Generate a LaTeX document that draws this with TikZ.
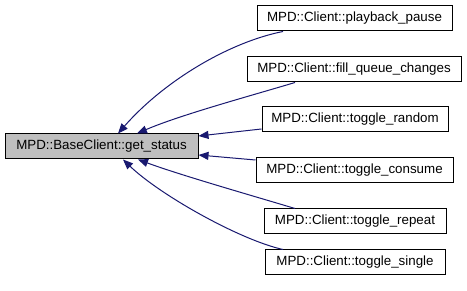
\documentclass[tikz,border=0pt]{standalone}
\usepackage{fontspec}
\setmainfont{Liberation Sans}
\usetikzlibrary{arrows.meta}
\definecolor{edgeblue}{HTML}{191970}

\begin{document}
\begin{tikzpicture}[x=0.75pt, y=-0.75pt, ->, >={Triangle[length=7.5pt,width=6pt]}, semithick]
        \tikzstyle{every node}=[draw=black, line width=0.75pt, fill=white, inner sep=0pt, minimum height=18.75pt, font=\fontsize{10pt}{12pt}\selectfont]
        \tikzstyle{caller}=[edgeblue, line width=0.75pt]
        \useasboundingbox (0,0) rectangle (467,291);
        \node[fill=gray!50, minimum width=144.75pt] (status) at (101.5,146.5) {MPD::BaseClient::get\_status};
        \node[minimum width=146.25pt] (pause)   at (354.5,18.5)  {MPD::Client::playback\_pause};
        \node[minimum width=160.5pt]  (fill)    at (354,69.5)    {MPD::Client::fill\_queue\_changes};
        \node[minimum width=139.5pt]  (random)  at (355,119.5)   {MPD::Client::toggle\_random};
        \node[minimum width=147.75pt] (consume) at (354.5,170.5) {MPD::Client::toggle\_consume};
        \node[minimum width=136.5pt]  (repeat)  at (355,221.5)   {MPD::Client::toggle\_repeat};
        \node[minimum width=135pt]    (single)  at (355,262.5)   {MPD::Client::toggle\_single};
        % callers point back at get_status
        \draw[caller] (283,0 |- pause.south) .. controls (230,42) and (165,80) .. (118,0 |- status.north);
        \draw[caller] (295,0 |- fill.south) .. controls (250,96) and (180,115) .. (137,0 |- status.north);
        \draw[caller] (random.west |- 0,129) -- (status.east |- 0,136);
        \draw[caller] (consume.west |- 0,160) -- (status.east |- 0,155);
        \draw[caller] (295,0 |- repeat.north) .. controls (250,195) and (180,175) .. (138,0 |- status.south);
        \draw[caller] (283,0 |- single.north) .. controls (240,240) and (160,195) .. (123,0 |- status.south);
      \end{tikzpicture}
\end{document}
